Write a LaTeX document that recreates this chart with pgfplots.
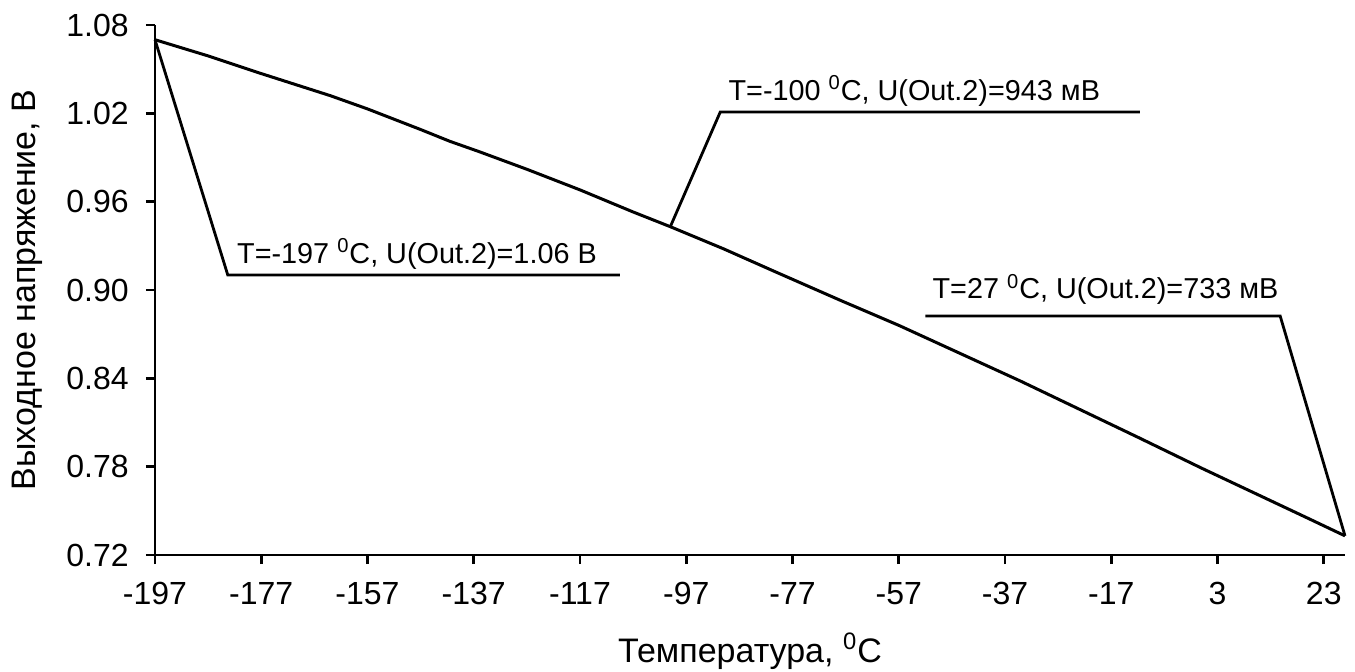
\documentclass[border=0pt]{standalone}
\usepackage{fontspec}
\setmainfont{Liberation Sans}
\usepackage{pgfplots}
\pgfplotsset{compat=1.18}
\begin{document}
\begin{tikzpicture}
\begin{axis}[
  scale only axis, width=595bp, height=265bp,
  xmin=-197, xmax=27, ymin=0.72, ymax=1.08,
  axis x line=bottom, axis y line=left,
  axis line style={-, line width=1.4bp, black},
  xtick={-197,-177,-157,-137,-117,-97,-77,-57,-37,-17,3,23},
  xticklabels={-197,-177,-157,-137,-117,-97,-77,-57,-37,-17,3,23},
  ytick={0.72,0.78,0.84,0.90,0.96,1.02,1.08},
  yticklabels={0.72,0.78,0.84,0.90,0.96,1.02,1.08},
  tick align=outside, major tick length=4.5bp,
  tick style={line width=1.4bp, black},
  ticklabel style={font=\fontsize{16bp}{19bp}\selectfont},
  xticklabel style={anchor=base, inner sep=0pt, yshift=-20bp},
  yticklabel style={anchor=east, inner sep=0pt, xshift=-8.5bp},
  xlabel={Температура, \textsuperscript{0}C},
  ylabel={Выходное напряжение, В},
  label style={font=\fontsize{17bp}{20bp}\selectfont},
  xlabel style={at={(axis description cs:0.5,-0.2019)}, anchor=base, inner sep=0pt},
  ylabel style={at={(axis description cs:-0.1,0.5)}, anchor=base, inner sep=0pt},
  clip=false,
]
\addplot[line width=1.5bp, black, mark=none] coordinates {
(-197,1.070) (-187,1.059) (-177,1.047) (-164,1.032) (-157,1.023)
(-147,1.009) (-141.5,1.001) (-136,0.994) (-127,0.982) (-117,0.968)
(-113,0.962) (-107,0.953) (-100,0.943) (-90,0.928) (-80,0.912)
(-68,0.893) (-57,0.876) (-45.5,0.857) (-34,0.838) (-23,0.819)
(-12,0.800) (0,0.779) (10,0.762) (20,0.745) (27,0.733)
};
\draw[line width=1.4bp] (axis cs:-197,1.07) -- (axis cs:-183.3,0.9102) -- (axis cs:-109.5,0.9102);
\node[anchor=base west, inner sep=0pt, font=\fontsize{14.4bp}{17bp}\selectfont] at (axis cs:-181.6,0.9183) {T=-197 \textsuperscript{0}C, U(Out.2)=1.06 В};
\draw[line width=1.4bp] (axis cs:-100,0.943) -- (axis cs:-90.6,1.0209) -- (axis cs:-11.6,1.0209);
\node[anchor=base west, inner sep=0pt, font=\fontsize{14.4bp}{17bp}\selectfont] at (axis cs:-89.1,1.029) {T=-100 \textsuperscript{0}C, U(Out.2)=943 мВ};
\draw[line width=1.4bp] (axis cs:27,0.733) -- (axis cs:14.8,0.8823) -- (axis cs:-52.0,0.8823);
\node[anchor=base west, inner sep=0pt, font=\fontsize{14.4bp}{17bp}\selectfont] at (axis cs:-50.7,0.8939) {T=27 \textsuperscript{0}C, U(Out.2)=733 мВ};
\path ([shift={(-77.5bp,-58.5bp)}]rel axis cs:0,0) rectangle ([shift={(5bp,12.5bp)}]rel axis cs:1,1);
\end{axis}
\end{tikzpicture}
\end{document}
